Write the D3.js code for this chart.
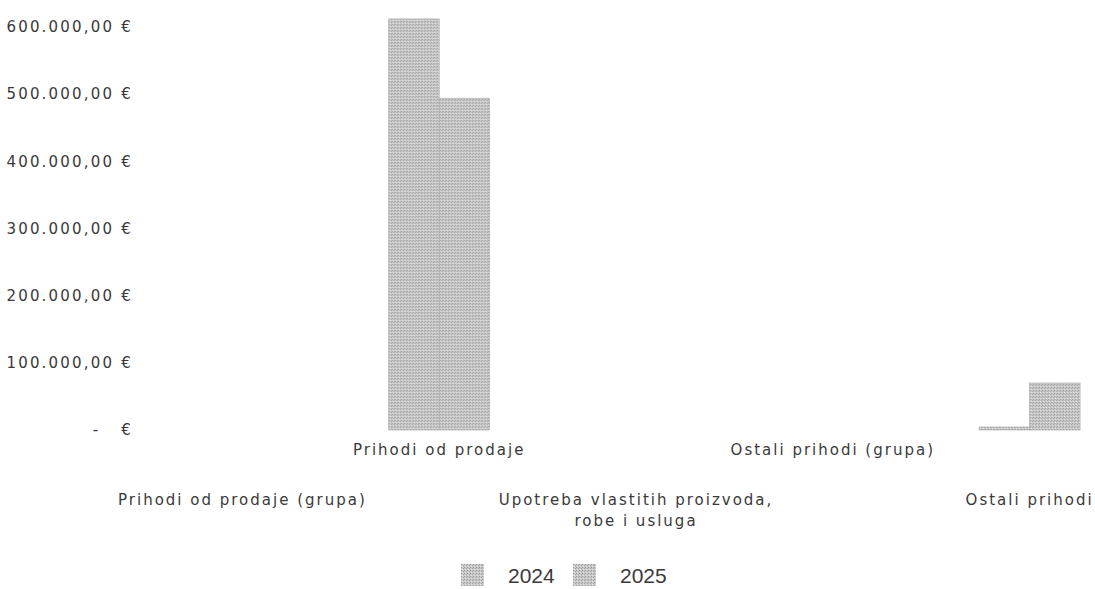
<!DOCTYPE html>
<html>
<head>
<meta charset="utf-8">
<script src="https://cdn.jsdelivr.net/npm/d3@7"></script>
<style>
	body { margin: 0; background: #fff; }
	svg text { font-family: "DejaVu Sans", sans-serif; fill: #3a3a3a; }
</style>
</head>
<body>
<script>
(function () {
	"use strict";

	var w = 1095;
	var h = 589;

	var categories = [
		"Prihodi od prodaje (grupa)",
		"Prihodi od prodaje",
		"Upotreba vlastitih proizvoda, robe i usluga",
		"Ostali prihodi (grupa)",
		"Ostali prihodi"
	];
	var years = ["2024", "2025"];
	var values2024 = [0, 612000, 0, 0, 4500];
	var values2025 = [0, 494000, 0, 0, 70000];
	var yTicks = [0, 100000, 200000, 300000, 400000, 500000, 600000];

	var rows = categories.map(function (c, i) {
		return { cat: c, vals: [values2024[i], values2025[i]] };
	});

	var svg = d3.select("body")
		.append("svg")
		.attr("width", w)
		.attr("height", h);

	// Scales
	var xScale = d3.scaleBand()
		.domain(categories)
		.range([144, 1128])
		.paddingInner(0.487)
		.paddingOuter(0.2435);

	var xSub = d3.scaleBand()
		.domain(years)
		.range([0, xScale.bandwidth()]);

	var yScale = d3.scaleLinear()
		.domain([0, 600000])
		.range([430, 27]);

	var fmt = function (d) {
		if (d === 0) return "-   €";
		return d3.format(",.2f")(d).replace(/,/g, "#").replace(".", ",").replace(/#/g, ".") + " €";
	};

	// Y axis (labels only)
	var yAxisGen = d3.axisLeft(yScale)
		.tickValues(yTicks)
		.tickSize(0)
		.tickPadding(0)
		.tickFormat(fmt);

	var yAxis = svg.append("g")
		.attr("transform", "translate(133, 0)")
		.call(yAxisGen);
	yAxis.select(".domain").remove();
	yAxis.selectAll("text")
		.style("font-size", "15px")
		.style("letter-spacing", "2.2px")
		.style("white-space", "pre")
		.attr("fill", "#3a3a3a");

	// Pattern-ish grey fill
	var defs = svg.append("defs");
	var pat = defs.append("pattern")
		.attr("id", "dots")
		.attr("width", 3)
		.attr("height", 3)
		.attr("patternUnits", "userSpaceOnUse");
	pat.append("rect").attr("width", 3).attr("height", 3).attr("fill", "#c8c8c8");
	pat.append("rect").attr("x", 0).attr("y", 0).attr("width", 1).attr("height", 1).attr("fill", "#9a9a9a");
	pat.append("rect").attr("x", 2).attr("y", 1).attr("width", 1).attr("height", 1).attr("fill", "#a6a6a6");
	pat.append("rect").attr("x", 1).attr("y", 2).attr("width", 1).attr("height", 1).attr("fill", "#e4e4e4");

	// Bars
	var groups = svg.selectAll("g.grp")
		.data(rows)
		.enter().append("g")
		.attr("class", "grp")
		.attr("transform", function (d) { return "translate(" + xScale(d.cat) + ",0)"; });

	groups.selectAll("rect")
		.data(function (d) { return d.vals.map(function (v, i) { return { year: years[i], v: v }; }); })
		.enter().append("rect")
		.attr("x", function (d) { return xSub(d.year); })
		.attr("y", function (d) { return yScale(d.v); })
		.attr("width", xSub.bandwidth())
		.attr("height", function (d) { return yScale(0) - yScale(d.v); })
		.attr("fill", "url(#dots)")
		.attr("stroke", "#a8a8a8")
		.attr("stroke-width", 0.6);

	// Category labels, staggered on two rows
	var labels = svg.selectAll("text.cat")
		.data(categories)
		.enter().append("text")
		.attr("class", "cat")
		.attr("text-anchor", "middle")
		.style("font-size", "15px")
		.style("letter-spacing", "2px")
		.attr("x", function (d) { return xScale(d) + xScale.bandwidth() / 2; })
		.attr("y", function (d, i) { return i % 2 === 1 ? 455 : 505; });

	labels.each(function (d) {
		var t = d3.select(this);
		var parts = d.indexOf(", ") > 0 ? [d.slice(0, d.indexOf(", ") + 1), d.slice(d.indexOf(", ") + 2)] : [d];
		parts.forEach(function (p, j) {
			t.append("tspan")
				.attr("x", t.attr("x"))
				.attr("dy", j === 0 ? 0 : 21)
				.text(p);
		});
	});

	// Legend
	var legend = svg.append("g").attr("transform", "translate(461, 564)");
	var item = legend.selectAll("g")
		.data(years)
		.enter().append("g")
		.attr("transform", function (d, i) { return "translate(" + (i * 112) + ",0)"; });
	item.append("rect")
		.attr("width", 23)
		.attr("height", 22)
		.attr("fill", "url(#dots)");
	item.append("text")
		.attr("x", 47)
		.attr("y", 19)
		.style("font-family", "'Liberation Sans', Arial, sans-serif")
		.style("font-size", "21px")
		.attr("fill", "#222")
		.text(function (d) { return d; });
})();
</script>
</body>
</html>
